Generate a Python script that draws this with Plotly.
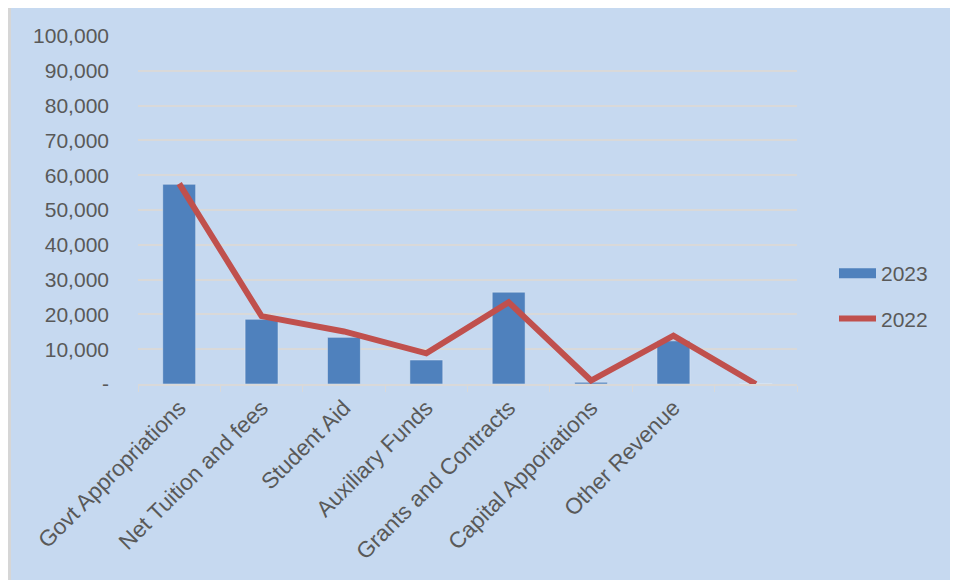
import plotly.graph_objects as go

categories = ["Govt Appropriations", "Net Tuition and fees", "Student Aid", "Auxiliary Funds",
              "Grants and Contracts", "Capital Apporiations", "Other Revenue", " "]
values_2023 = [57400, 18600, 13400, 6900, 26400, 500, 12400, 0]
values_2022 = [57600, 19500, 15100, 8800, 23500, 1000, 13900, 0]
y_tickvals = [0, 10000, 20000, 30000, 40000, 50000, 60000, 70000, 80000, 90000, 100000]
y_ticktext = ["-", "10,000", "20,000", "30,000", "40,000", "50,000", "60,000", "70,000",
              "80,000", "90,000", "100,000"]

BLUE = "#4F81BD"
RED = "#C0504D"
TXT = "#595959"
FONT = "Liberation Sans"

fig = go.Figure()
fig.add_trace(go.Bar(x=categories, y=values_2023, name="2023", marker_color=BLUE,
                     width=0.4, showlegend=False, legendgroup="a"))
fig.add_trace(go.Scatter(x=[None], y=[None], mode="lines", name="2023",
                         line=dict(color=BLUE, width=14), legendgroup="a"))
fig.add_trace(go.Scatter(x=categories, y=values_2022, mode="lines", name="2022",
                         line=dict(color=RED, width=6), legendgroup="b"))

OFF = 8  # page body margin
W, H = 958 - OFF, 580 - OFF
L, T = 138 - OFF, 36 - OFF
R = W - (797 - OFF)
B = H - (384 - OFF)
pw, ph = W - L - R, H - T - B

def px2x(px):
    return (px - OFF - L) / pw

def px2y(py):
    return (H - B - (py - OFF)) / ph

# thin gray left edge as in the reference frame
fig.add_shape(type="rect", xref="paper", yref="paper",
              x0=px2x(7), x1=px2x(11), y0=px2y(600), y1=px2y(0),
              fillcolor="#D6D6D6", line=dict(width=0), layer="below")

fig.update_layout(
    width=W, height=H,
    margin=dict(l=L, r=R, t=T, b=B),
    paper_bgcolor="#C6D9F0",
    plot_bgcolor="rgba(0,0,0,0)",
    font=dict(family=FONT, size=21, color=TXT),
    bargap=0.6,
    legend=dict(x=px2x(834), xanchor="left", y=px2y(253), yanchor="top",
                font=dict(size=21, color=TXT), traceorder="grouped",
                tracegroupgap=15, itemwidth=37, bgcolor="rgba(0,0,0,0)"),
    xaxis=dict(type="category", tickangle=-45, showline=True, linecolor="#D9D9D9",
               linewidth=1.5, ticks="outside", tickson="boundaries", ticklen=6,
               tickcolor="#D9D9D9", showgrid=False, automargin=False,
               tickfont=dict(size=22.5, color=TXT), range=[-0.5, 7.5]),
    yaxis=dict(range=[0, 100000], tickvals=y_tickvals, ticktext=y_ticktext,
               showgrid=True, gridcolor="#D9D9D9", gridwidth=1.5, zeroline=False,
               ticks="", ticklabelstandoff=28, automargin=False,
               tickfont=dict(size=21, color=TXT)),
)

fig.write_html("out.html")
